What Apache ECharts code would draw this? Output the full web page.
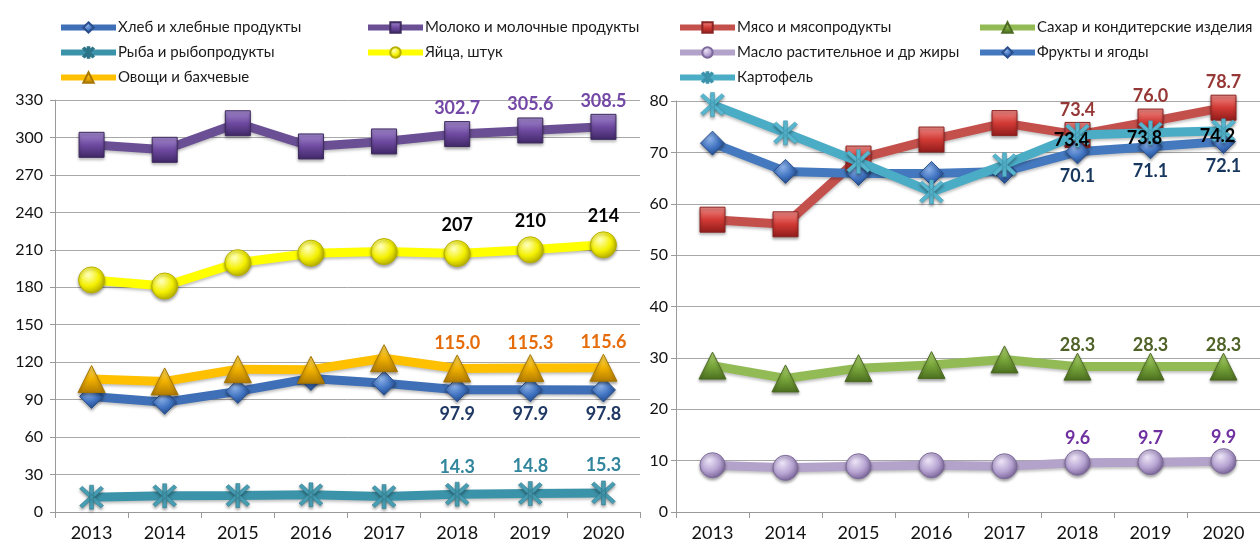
<!DOCTYPE html>
<html>
<head>
<meta charset="utf-8">
<script src="https://cdn.jsdelivr.net/npm/echarts@6/dist/echarts.min.js"></script>
<style>
  html, body { margin: 0; padding: 0; background: #fff; }
  #chart { width: 1260px; height: 547px; }
</style>
</head>
<body>
<div id="chart"></div>
<script>
// Years on both category axes
const years = ['2013', '2014', '2015', '2016', '2017', '2018', '2019', '2020'];

// Left panel: consumption per capita (kg; eggs in pieces)
const bread  = [92.6, 87.9, 96.6, 107.0, 103.2, 97.9, 97.9, 97.8];
const milk   = [294.1, 290.1, 311.4, 292.8, 296.8, 302.7, 305.6, 308.5];
const fish   = [11.9, 13.0, 13.2, 13.8, 12.4, 14.3, 14.8, 15.3];
const eggs   = [185.9, 181.0, 199.7, 207.3, 208.6, 207, 210, 214];
const veg    = [106.5, 104.6, 114.4, 113.9, 123.2, 115.0, 115.3, 115.6];

// Right panel
const meat   = [56.9, 56.0, 68.8, 72.5, 75.7, 73.4, 76.0, 78.7];
const sugar  = [28.5, 26.0, 28.0, 28.6, 29.7, 28.3, 28.3, 28.3];
const oil    = [9.1, 8.6, 8.9, 9.1, 8.9, 9.6, 9.7, 9.9];
const fruit  = [71.8, 66.3, 65.9, 65.9, 66.3, 70.1, 71.1, 72.1];
const potato = [79.3, 73.8, 68.2, 62.3, 67.6, 73.4, 73.8, 74.2];

// Axis ticks
const leftAxis  = { min: 0, max: 330, interval: 30 };
const rightAxis = { min: 0, max: 80, interval: 10 };

// Only the last three years carry value labels
const labelFrom = 5;

const FONT = 'Lato, "Open Sans", sans-serif';

// Asterisk marker: vertical bar plus two diagonals
const ASTERISK = 'path://M8.5,0 L11.5,0 L11.5,20 L8.5,20 Z ' +
  'M0.9,3.0 L3.0,0.9 L19.1,17.0 L17.0,19.1 Z ' +
  'M17.0,0.9 L19.1,3.0 L3.0,19.1 L0.9,17.0 Z';

function bevel(light, base, dark) {
  return {
    type: 'radial', x: 0.38, y: 0.32, r: 0.75,
    colorStops: [
      { offset: 0, color: light },
      { offset: 0.55, color: base },
      { offset: 1, color: dark }
    ]
  };
}

function linear(light, base, dark) {
  return {
    type: 'linear', x: 0, y: 0, x2: 0, y2: 1,
    colorStops: [
      { offset: 0, color: light },
      { offset: 0.5, color: base },
      { offset: 1, color: dark }
    ]
  };
}

function makeSeries(cfg) {
  const data = cfg.values.map(function (v, i) {
    return i >= labelFrom ? { value: v, label: { show: true } } : v;
  });
  return {
    name: cfg.name,
    type: 'line',
    xAxisIndex: cfg.panel,
    yAxisIndex: cfg.panel,
    data: data,
    symbol: cfg.symbol,
    symbolSize: cfg.size,
    showAllSymbol: true,
    z: cfg.z || 2,
    lineStyle: {
      color: cfg.line, width: 9,
      shadowColor: 'rgba(0,0,0,0.25)', shadowBlur: 3, shadowOffsetY: 2
    },
    itemStyle: {
      color: cfg.fill,
      borderColor: cfg.border,
      borderWidth: cfg.borderWidth === undefined ? 1 : cfg.borderWidth,
      shadowColor: 'rgba(0,0,0,0.35)', shadowBlur: 3, shadowOffsetY: 2
    },
    emphasis: { disabled: true },
    label: {
      show: false,
      position: cfg.labelPos || 'top',
      distance: cfg.dist,
      offset: cfg.offset || [0, 0],
      color: cfg.labelColor,
      fontFamily: FONT,
      fontWeight: 'bold',
      fontSize: 18,
      formatter: function (p) { return Number(p.value).toFixed(cfg.decimals); }
    }
  };
}

const series = [
  // left panel
  makeSeries({ name: 'Хлеб и хлебные продукты', panel: 0, values: bread, symbol: 'diamond', size: 24,
    line: '#3f6fb6', fill: bevel('#8fb4ea', '#3f72c0', '#1f437e'), border: '#2a4f8c',
    labelPos: 'bottom', dist: 3, labelColor: '#1f3864', decimals: 1 }),
  makeSeries({ name: 'Молоко и молочные продукты', panel: 0, values: milk, symbol: 'rect', size: 25,
    line: '#6a4f94', fill: linear('#a58bd0', '#6e4aa0', '#3f2766'), border: '#3d2a5e',
    dist: 4, labelColor: '#7448a6', decimals: 1 }),
  makeSeries({ name: 'Рыба и рыбопродукты', panel: 0, values: fish, symbol: ASTERISK, size: 24,
    line: '#3b93a9', fill: '#4aa3b9', border: '#2c7487', borderWidth: 0.5,
    dist: 6, labelColor: '#31859c', decimals: 1 }),
  makeSeries({ name: 'Яйца, штук', panel: 0, values: eggs, symbol: 'circle', size: 26,
    line: '#ffff00', fill: bevel('#ffffc0', '#f4f000', '#a8a000'), border: '#b8b000',
    dist: 6, labelColor: '#000000', decimals: 0 }),
  makeSeries({ name: 'Овощи и бахчевые', panel: 0, values: veg, symbol: 'triangle', size: 27,
    line: '#ffc000', fill: linear('#ffe066', '#f2b200', '#b07a00'), border: '#a87600',
    dist: 2, labelColor: '#e46c0a', decimals: 1 }),

  // right panel
  makeSeries({ name: 'Мясо и мясопродукты', panel: 1, values: meat, symbol: 'rect', size: 25,
    line: '#c4504c', fill: linear('#f08c88', '#d23a35', '#8e1c1a'), border: '#8a2422',
    dist: 3, labelColor: '#953735', decimals: 1 }),
  makeSeries({ name: 'Сахар и кондитерские изделия', panel: 1, values: sugar, symbol: 'triangle', size: 27,
    line: '#93bb55', fill: linear('#b9dc7a', '#7aa83c', '#4a6e1e'), border: '#4d6b22',
    dist: -2, labelColor: '#4f6228', decimals: 1 }),
  makeSeries({ name: 'Масло растительное и др жиры', panel: 1, values: oil, symbol: 'circle', size: 25,
    line: '#b3a2c9', fill: bevel('#ece4f6', '#b6a3d2', '#6e5a8c'), border: '#7e6a9c',
    dist: 2, labelColor: '#7030a0', decimals: 1 }),
  makeSeries({ name: 'Фрукты и ягоды', panel: 1, values: fruit, symbol: 'diamond', size: 24,
    line: '#4479bf', fill: bevel('#8fb4ea', '#3f72c0', '#1f437e'), border: '#2a4f8c',
    labelPos: 'bottom', dist: 3, labelColor: '#17375e', decimals: 1 }),
  makeSeries({ name: 'Картофель', panel: 1, values: potato, symbol: ASTERISK, size: 24,
    line: '#4bacc6', fill: '#5bbdd6', border: '#3a93ab', borderWidth: 0.5,
    labelPos: 'inside', offset: [-6, 5], labelColor: '#000000', decimals: 1, z: 3 })
];

function legendBlock(names, left, top) {
  return {
    data: names,
    orient: 'vertical',
    left: left, top: top,
    itemWidth: 55, itemHeight: 13,
    itemGap: 10,
    selectedMode: false,
    lineStyle: { width: 6 },
    textStyle: { fontFamily: FONT, fontSize: 15, color: '#1a1a1a', padding: [0, 0, 0, -3] }
  };
}

const axisLineStyle = { lineStyle: { color: '#9a9a9a', width: 1 } };

function xAxis(idx) {
  return {
    type: 'category', gridIndex: idx, data: years, boundaryGap: true,
    axisLine: axisLineStyle,
    axisTick: { show: true, length: 6, lineStyle: { color: '#9a9a9a' } },
    axisLabel: { fontFamily: FONT, fontSize: 18, color: '#111', margin: 12 }
  };
}

function yAxis(idx, ax) {
  return {
    type: 'value', gridIndex: idx, min: ax.min, max: ax.max, interval: ax.interval,
    axisLine: { show: true, lineStyle: { color: '#9a9a9a', width: 1 } },
    axisTick: { show: true, length: 5, lineStyle: { color: '#9a9a9a' } },
    splitLine: { lineStyle: { color: '#a8a8a8', width: 1 } },
    axisLabel: { fontFamily: FONT, fontSize: 16, color: '#111', margin: idx === 0 ? 12 : 8 }
  };
}

const chart = echarts.init(document.getElementById('chart'), null, { renderer: 'canvas' });
chart.setOption({
  animation: false,
  backgroundColor: '#ffffff',
  legend: [
    legendBlock(['Хлеб и хлебные продукты', 'Рыба и рыбопродукты', 'Овощи и бахчевые'], 53, 15),
    legendBlock(['Молоко и молочные продукты', 'Яйца, штук'], 360, 15),
    legendBlock(['Мясо и мясопродукты', 'Масло растительное и др жиры', 'Картофель'], 672, 15),
    legendBlock(['Сахар и кондитерские изделия', 'Фрукты и ягоды'], 972, 15)
  ],
  grid: [
    { left: 55, right: 620, top: 100, bottom: 35 },
    { left: 676, right: -7, top: 101, bottom: 35 }
  ],
  xAxis: [xAxis(0), xAxis(1)],
  yAxis: [yAxis(0, leftAxis), yAxis(1, rightAxis)],
  series: series
});
</script>
</body>
</html>
